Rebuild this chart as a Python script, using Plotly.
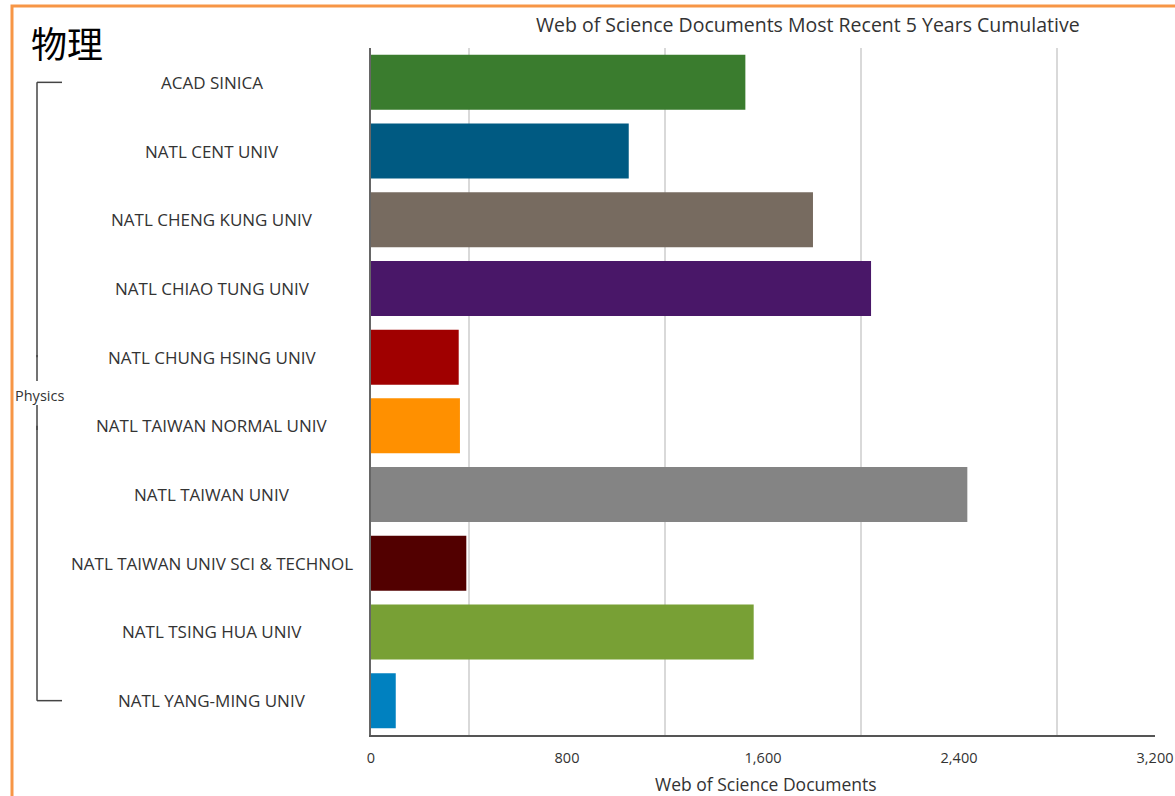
import plotly.graph_objects as go

institutions = [
    "ACAD SINICA",
    "NATL CENT UNIV",
    "NATL CHENG KUNG UNIV",
    "NATL CHIAO TUNG UNIV",
    "NATL CHUNG HSING UNIV",
    "NATL TAIWAN NORMAL UNIV",
    "NATL TAIWAN UNIV",
    "NATL TAIWAN UNIV SCI & TECHNOL",
    "NATL TSING HUA UNIV",
    "NATL YANG-MING UNIV",
]
documents = [1528, 1052, 1804, 2041, 358, 363, 2434, 389, 1562, 101]
bar_colors = ["#3a7c2e", "#005a82", "#776b60", "#491768", "#a00000",
              "#ff9000", "#848484", "#520000", "#78a035", "#0081c0"]
tick_values = [0, 800, 1600, 2400, 3200]
grid_values = [400, 1200, 2000, 2800]
group_label = "Physics"
page_label = "物理"
chart_title = "Web of Science Documents Most Recent 5 Years Cumulative"
x_title = "Web of Science Documents"

W, H = 1175, 796
ML, MR, MT, MB = 371, 20, 48, 61
PW, PH = W - ML - MR, H - MT - MB


def px(x):
    return (x - ML) / PW


def py(y):
    return 1 - (y - MT) / PH


font_main = "Open Sans, Lato, sans-serif"
text_col = "#333333"

fig = go.Figure(go.Bar(
    x=documents,
    y=institutions,
    orientation="h",
    marker=dict(color=bar_colors, line=dict(width=0)),
    width=0.8,
    hoverinfo="x+y",
))

annotations = []
for name in institutions:
    annotations.append(dict(
        x=px(212), y=name, xref="paper", yref="y", text=name,
        showarrow=False, xanchor="center", yanchor="middle",
        font=dict(family=font_main, size=17, color=text_col),
    ))
annotations += [
    dict(x=px(808), y=py(25), xref="paper", yref="paper", text=chart_title,
         showarrow=False, xanchor="center", yanchor="middle",
         font=dict(family=font_main, size=19.5, color=text_col)),
    dict(x=px(766), y=py(784), xref="paper", yref="paper", text=x_title,
         showarrow=False, xanchor="center", yanchor="middle",
         font=dict(family=font_main, size=17.5, color=text_col)),
    dict(x=px(29), y=py(42), xref="paper", yref="paper", text=page_label,
         showarrow=False, xanchor="left", yanchor="middle",
         font=dict(family="Noto Sans CJK SC", size=36, color="#000000")),
    dict(x=px(39), y=py(395), xref="paper", yref="paper", text=group_label,
         showarrow=False, xanchor="center", yanchor="middle",
         font=dict(family=font_main, size=14.5, color=text_col)),
]

bracket = dict(color="#444444", width=1.5)
shapes = [
    # orange frame
    dict(type="rect", xref="paper", yref="paper",
         x0=px(12), x1=px(1190), y0=py(6), y1=py(810),
         line=dict(color="#f79646", width=3), fillcolor="rgba(0,0,0,0)", layer="below"),
    # bracket
    dict(type="line", xref="paper", yref="y", x0=px(37), x1=px(62),
         y0=institutions[0], y1=institutions[0], line=bracket),
    dict(type="line", xref="paper", yref="y", x0=px(37), x1=px(62),
         y0=institutions[-1], y1=institutions[-1], line=bracket),
    dict(type="line", xref="paper", yref="y", x0=px(37), x1=px(37),
         y0=institutions[0], y1=institutions[4], line=bracket),
    dict(type="line", xref="paper", yref="paper", x0=px(37), x1=px(37),
         y0=py(381), y1=py(355), line=bracket),
    dict(type="line", xref="paper", yref="paper", x0=px(37), x1=px(37),
         y0=py(405), y1=py(430), line=bracket),
    dict(type="line", xref="paper", yref="y", x0=px(37), x1=px(37),
         y0=institutions[5], y1=institutions[-1], line=bracket),
]

fig.update_layout(
    width=W, height=H,
    margin=dict(l=ML, r=MR, t=MT, b=MB, autoexpand=False),
    paper_bgcolor="white", plot_bgcolor="white",
    showlegend=False,
    bargap=0.2,
    annotations=annotations,
    shapes=shapes,
    xaxis=dict(
        range=[0, 3200],
        tickvals=tick_values,
        tickformat=",",
        showgrid=False,
        minor=dict(tickvals=grid_values, showgrid=True, gridcolor="#d9d9d9", gridwidth=1.5, ticks=""),
        showline=True, linecolor="#555555", linewidth=2,
        ticks="", ticklabelstandoff=9,
        ticklabeloverflow="allow",
        automargin=False,
        tickfont=dict(family=font_main, size=14.5, color=text_col),
        zeroline=False,
        fixedrange=True,
    ),
    yaxis=dict(
        categoryorder="array", categoryarray=institutions,
        autorange="reversed",
        showticklabels=False,
        showline=True, linecolor="#666666", linewidth=2,
        showgrid=False, zeroline=False,
        automargin=False,
        fixedrange=True,
    ),
)

fig.write_html(
    "out.html",
    config={"displayModeBar": False},
    post_script="document.body.style.margin='0';document.body.style.overflow='hidden';",
)
